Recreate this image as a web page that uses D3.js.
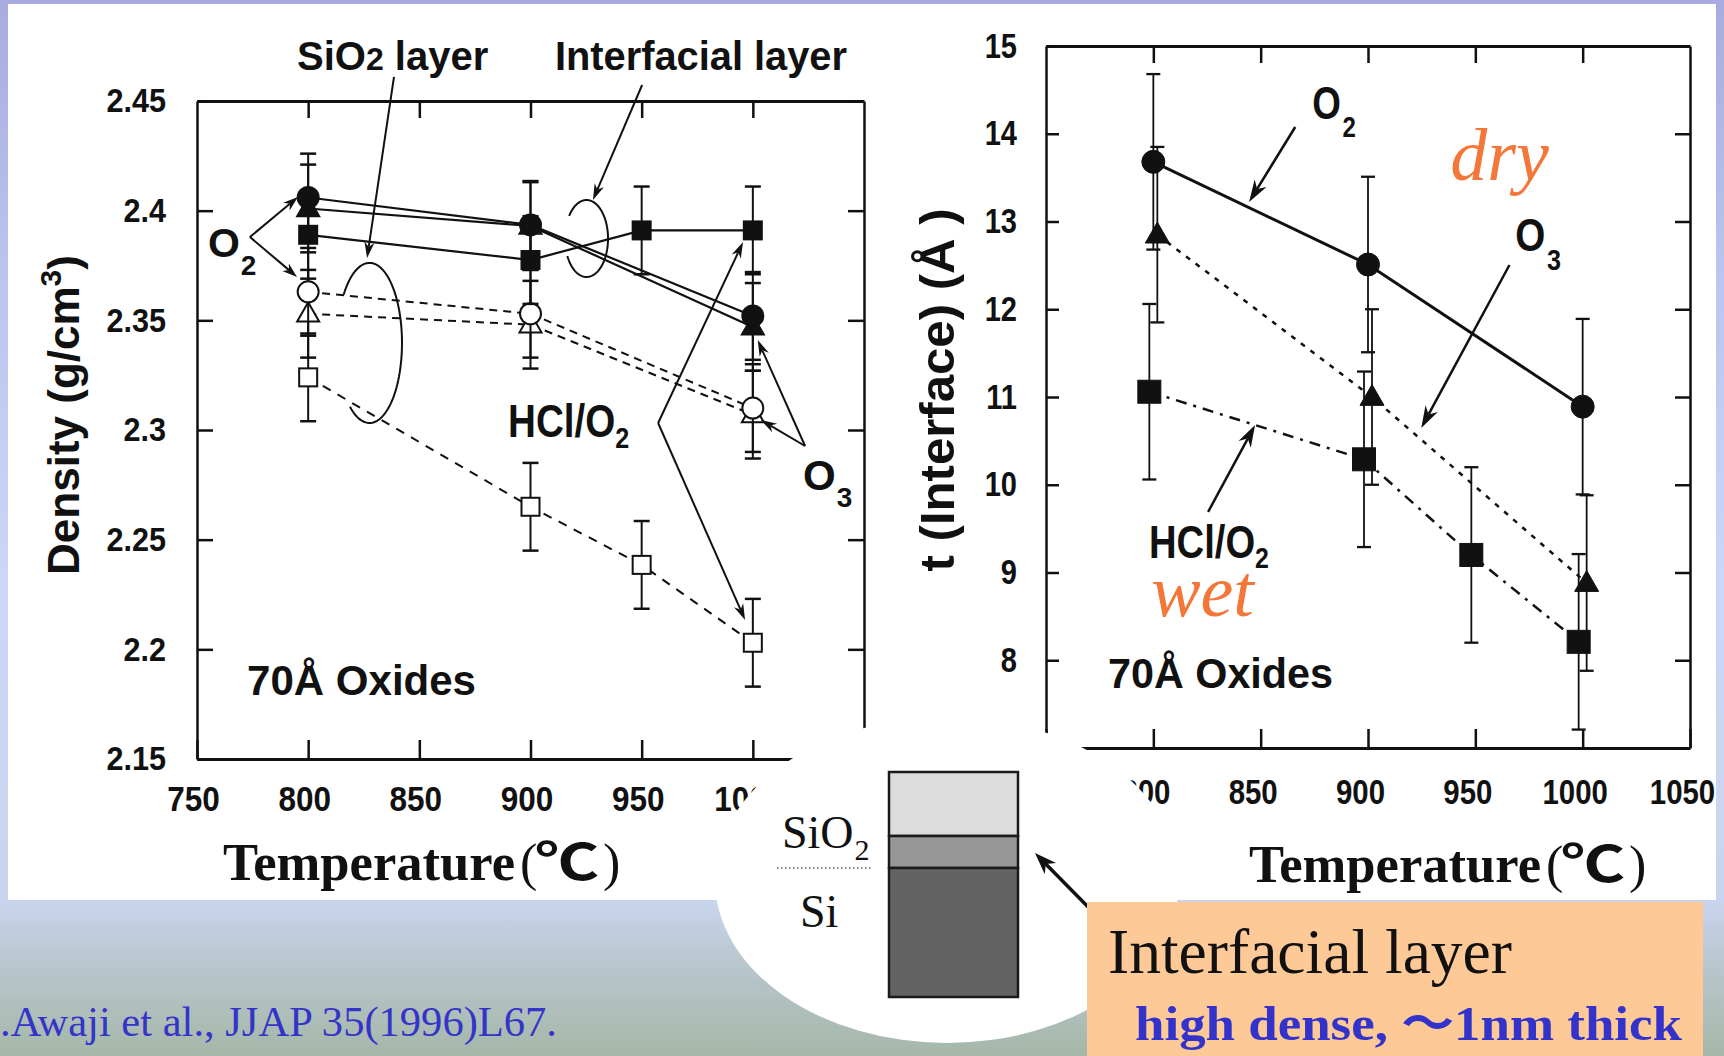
<!DOCTYPE html>
<html>
<head>
<meta charset="utf-8">
<script src="https://cdnjs.cloudflare.com/ajax/libs/d3/7.8.5/d3.min.js"></script>
<style>
  html, body { margin: 0; padding: 0; background: #fff; }
  svg { display: block; }
</style>
</head>
<body>
<svg id="slide" width="1724" height="1056"></svg>
<script>
// ---------------- data: oxide density (left panel) ----------------
const tempsA = [800, 900, 1000];
const tempsB = [800, 900, 950, 1000];

// interfacial layer (filled symbols, solid lines)
const densIfO2  = [2.406, 2.3935, 2.352];
const densIfO3  = [2.401, 2.393, 2.347];
const densIfHCl = [2.389, 2.3775, 2.391, 2.391];
// SiO2 layer (open symbols, dashed lines)
const densOxO2  = [2.363, 2.353, 2.310];
const densOxO3  = [2.353, 2.348, 2.307];
const densOxHCl = [2.324, 2.265, 2.2385, 2.203];
const densErrA  = [0.02, 0.02, 0.02];
const densErrB  = [0.02, 0.02, 0.02, 0.02];

// ---------------- data: interfacial thickness (right panel) ----------------
const thickO2   = [13.68, 12.51, 10.89];
const thickO3   = [12.85, 11.0, 8.88];
const thickHCl  = [11.06, 10.29, 9.2, 8.21];
const thickErrA = [1, 1, 1];
const thickErrB = [1, 1, 1, 1];

// ---------------- tick values / labels ----------------
const tempTicks       = [750, 800, 850, 900, 950, 1000, 1050];
const tempLabelsA     = ["750", "800", "850", "900", "950", "1000", ""];
const tempLabelsB     = ["", "800", "850", "900", "950", "1000", "1050"];
const tempInnerTicks  = [800, 850, 900, 950, 1000];
const densTicks       = [2.15, 2.2, 2.25, 2.3, 2.35, 2.4, 2.45];
const densTickLabels  = ["2.15", "2.2", "2.25", "2.3", "2.35", "2.4", "2.45"];
const thickTicks      = [7, 8, 9, 10, 11, 12, 13, 14, 15];
const thickTickLabels = ["", "8", "9", "10", "11", "12", "13", "14", "15"];

// ---------------- styling ----------------
const INK = "#111";
const SANS = "'Liberation Sans', Arial, Helvetica, sans-serif";
const SERIF = "'Liberation Serif', 'Times New Roman', 'Noto Sans CJK JP', serif";
const ORANGE = "#f4773a";
const BLUE = "#3434c9";

const svg = d3.select("#slide");

// slide background
const defs = svg.append("defs");
const bg = defs.append("linearGradient").attr("id", "bg").attr("x1", 0).attr("y1", 0).attr("x2", 0).attr("y2", 1);
[[0, "#a8abdf"], [0.25, "#bcc3ed"], [0.55, "#cdd6f6"], [0.85, "#c9d5ee"], [0.93, "#b5c3c6"], [1, "#a5b7a9"]]
  .forEach(([o, c]) => bg.append("stop").attr("offset", o).attr("stop-color", c));
svg.append("rect").attr("width", 1724).attr("height", 1056).attr("fill", "url(#bg)");
svg.append("rect").attr("x", 8).attr("y", 4).attr("width", 1708).attr("height", 896).attr("fill", "#fff");

// ---------------- helpers ----------------
function txt(g, s, x, y, o) {
  const t = g.append("text").attr("x", x).attr("y", y).text(s)
    .attr("font-family", o.family || SANS).attr("font-size", o.size)
    .attr("font-weight", o.weight || "bold").attr("fill", o.fill || INK);
  if (o.style) t.attr("font-style", o.style);
  if (o.anchor) t.attr("text-anchor", o.anchor);
  if (o.width) t.attr("textLength", o.width).attr("lengthAdjust", "spacingAndGlyphs");
  return t;
}

// formula label with a lowered index, optionally condensed horizontally
function chem(g, main, sub, x, y, o) {
  const t = g.append("text")
    .attr("transform", `translate(${x},${y}) scale(${o.sx || 1},1)`)
    .attr("font-family", o.family || SANS).attr("font-size", o.size)
    .attr("font-weight", o.weight || "bold").attr("fill", INK);
  t.append("tspan").text(main);
  t.append("tspan").attr("font-size", o.subSize).attr("dy", o.subDy).attr("dx", o.subDx || 0).text(sub);
  return t;
}

function arrow(g, x1, y1, x2, y2, o) {
  const len = o.head, hw = o.hw;
  const dx = x2 - x1, dy = y2 - y1, d = Math.hypot(dx, dy), ux = dx / d, uy = dy / d;
  const bx = x2 - ux * len, by = y2 - uy * len;
  const nx = x2 - ux * len * 0.7, ny = y2 - uy * len * 0.7;
  g.append("line").attr("x1", x1).attr("y1", y1).attr("x2", nx).attr("y2", ny)
    .attr("stroke", INK).attr("stroke-width", o.sw);
  g.append("path")
    .attr("d", `M${x2},${y2}L${bx - uy * hw},${by + ux * hw}L${nx},${ny}L${bx + uy * hw},${by - ux * hw}Z`)
    .attr("fill", INK);
}

function loop(g, cx, cy, rx, ry, a0, a1) {
  const pts = d3.range(a0, a1 + 0.1, 3).map(a => {
    const r = a * Math.PI / 180;
    return [cx + rx * Math.cos(r), cy + ry * Math.sin(r)];
  });
  g.append("path").attr("d", d3.line()(pts)).attr("fill", "none")
    .attr("stroke", INK).attr("stroke-width", 2);
}

function marker(g, kind, filled, cx, cy, s, sw) {
  let el;
  if (kind === "circle") {
    el = g.append("circle").attr("cx", cx).attr("cy", cy).attr("r", s / 2);
  } else if (kind === "square") {
    el = g.append("rect").attr("x", cx - s / 2).attr("y", cy - s / 2).attr("width", s).attr("height", s);
  } else {
    const h = s * 0.87;
    el = g.append("path").attr("d", `M${cx},${cy - h * 0.6}L${cx + s / 2},${cy + h * 0.4}L${cx - s / 2},${cy + h * 0.4}Z`);
  }
  el.attr("fill", filled ? INK : "#fff").attr("stroke", INK).attr("stroke-width", sw);
}

function styleAxis(ag, o) {
  ag.attr("font-family", SANS).attr("font-size", o.size).attr("font-weight", "bold");
  ag.select(".domain").attr("stroke", INK).attr("stroke-width", o.domain);
  ag.selectAll(".tick line").attr("stroke", INK).attr("stroke-width", o.tick);
  ag.selectAll(".tick text").attr("fill", INK).each(function () {
    const t = d3.select(this);
    const x0 = +t.attr("x") || 0;
    t.attr("x", (x0 + (o.dx || 0)) / o.sx).attr("transform", `scale(${o.sx},1)`);
  });
}

function series(g, x, y, s, st) {
  const dx = st.dx[s.mark] || 0;
  const pts = s.t.map((t, i) => ({ t, v: s.v[i], e: s.e[i] }));
  g.append("path").datum(pts)
    .attr("d", d3.line().x(d => x(d.t) + dx).y(d => y(d.v)))
    .attr("fill", "none").attr("stroke", INK).attr("stroke-width", s.width)
    .attr("stroke-dasharray", s.dash);
  pts.forEach(d => {
    const px = x(d.t) + dx, yTop = y(d.v + d.e), yBot = y(d.v - d.e);
    g.append("line").attr("x1", px).attr("x2", px).attr("y1", yTop).attr("y2", yBot)
      .attr("stroke", INK).attr("stroke-width", st.errW);
    [yTop, yBot].forEach(yy => g.append("line")
      .attr("x1", px - st.cap / 2).attr("x2", px + st.cap / 2).attr("y1", yy).attr("y2", yy)
      .attr("stroke", INK).attr("stroke-width", st.errW + 0.5));
  });
  pts.forEach(d => marker(g, s.mark, s.filled, x(d.t) + dx, y(d.v), st.size[s.mark], st.markW));
}

function tempTitle(g, x, y) {
  txt(g, "Temperature", x, y, { family: SERIF, size: 52, width: 292 });
  txt(g, "(", x + 297, y, { family: SERIF, size: 52, weight: "normal" });
  txt(g, "℃", x + 312, y, { family: "'Noto Sans CJK JP', 'DejaVu Sans', sans-serif", size: 50, weight: "bold", width: 64 });
  txt(g, ")", x + 380, y, { family: SERIF, size: 52, weight: "normal" });
}

// ================= left panel: density =================
const xA = d3.scaleLinear().domain([750, 1050]).range([197, 864]);
const yA = d3.scaleLinear().domain([2.15, 2.45]).range([759, 101]);
const gA = svg.append("g");

styleAxis(gA.append("g").attr("transform", `translate(0,${yA(2.15)})`)
  .call(d3.axisBottom(xA).tickValues(tempTicks).tickFormat((d, i) => tempLabelsA[i]).tickSize(-19).tickSizeOuter(0).tickPadding(27)),
  { size: 35, sx: 0.9, dx: -4, domain: 3, tick: 2.5 });
styleAxis(gA.append("g").attr("transform", `translate(0,${yA(2.45)})`)
  .call(d3.axisTop(xA).tickValues(tempInnerTicks).tickFormat(() => "").tickSize(-17).tickSizeOuter(0)),
  { size: 35, sx: 1, domain: 3, tick: 2.5 });
styleAxis(gA.append("g").attr("transform", `translate(${xA(750)},0)`)
  .call(d3.axisLeft(yA).tickValues(densTicks).tickFormat((d, i) => densTickLabels[i]).tickSize(-16).tickSizeOuter(0).tickPadding(31)),
  { size: 34, sx: 0.9, domain: 2.5, tick: 2.5 });
styleAxis(gA.append("g").attr("transform", `translate(${xA(1050)},0)`)
  .call(d3.axisRight(yA).tickValues(densTicks).tickFormat(() => "").tickSize(-16).tickSizeOuter(0)),
  { size: 34, sx: 1, domain: 2.5, tick: 2.5 });

const densStyle = {
  dx: {}, errW: 2, cap: 16, markW: 2,
  size: { circle: 21, square: 18, triangle: 22 }
};
const densSeries = [
  { t: tempsB, v: densOxHCl, e: densErrB, mark: "square",   filled: false, dash: "9,8", width: 2 },
  { t: tempsA, v: densOxO3,  e: densErrA, mark: "triangle", filled: false, dash: "8,6", width: 2 },
  { t: tempsA, v: densOxO2,  e: densErrA, mark: "circle",   filled: false, dash: "8,6", width: 2 },
  { t: tempsB, v: densIfHCl, e: densErrB, mark: "square",   filled: true,  dash: null,  width: 2.2 },
  { t: tempsA, v: densIfO3,  e: densErrA, mark: "triangle", filled: true,  dash: null,  width: 2.2 },
  { t: tempsA, v: densIfO2,  e: densErrA, mark: "circle",   filled: true,  dash: null,  width: 2.2 }
];
densSeries.forEach(s => series(gA, xA, yA, s, densStyle));

// annotations, placed in data units
const P = (x, y, t, v) => [x(t), y(v)];
{
  const [sx, sy] = P(xA, yA, 795, 2.4641);
  const t = txt(gA, "SiO", sx, sy, { size: 40 });
  t.append("tspan").attr("font-size", 32).text("2");
  t.append("tspan").text(" layer");
  txt(gA, "Interfacial layer", xA(911), yA(2.4641), { size: 40, width: 292 });

  arrow(gA, ...P(xA, yA, 838.6, 2.461), ...P(xA, yA, 826.5, 2.3784), { head: 16, hw: 5, sw: 2 });
  loop(gA, xA(827.6), yA(2.3397), xA(827.6 + 14.6) - xA(827.6), yA(2.3397 - 0.0365) - yA(2.3397), 217, 489);
  arrow(gA, ...P(xA, yA, 950.2, 2.4573), ...P(xA, yA, 928.1, 2.4049), { head: 16, hw: 5, sw: 2 });
  loop(gA, xA(925.2), yA(2.3873), xA(925.2 + 9.67) - xA(925.2), yA(2.3873 - 0.01755) - yA(2.3873), 216, 513);

  chem(gA, "O", "2", xA(754.9), yA(2.3789), { size: 41, subSize: 28, subDy: 18, subDx: 1 });
  arrow(gA, ...P(xA, yA, 773.8, 2.388), ...P(xA, yA, 795.4, 2.4062), { head: 15, hw: 5, sw: 2 });
  arrow(gA, ...P(xA, yA, 773.8, 2.388), ...P(xA, yA, 795.0, 2.3698), { head: 15, hw: 5, sw: 2 });

  chem(gA, "HCl/O", "2", xA(889.9), yA(2.2968), { size: 46, subSize: 30, subDy: 11, sx: 0.84 });
  arrow(gA, ...P(xA, yA, 957.4, 2.3032), ...P(xA, yA, 995.6, 2.3857), { head: 16, hw: 5, sw: 2 });
  arrow(gA, ...P(xA, yA, 957.4, 2.3032), ...P(xA, yA, 996.5, 2.2134), { head: 16, hw: 5, sw: 2 });

  chem(gA, "O", "3", xA(1022.6), yA(2.2726), { size: 42, subSize: 28, subDy: 17, subDx: 1 });
  arrow(gA, ...P(xA, yA, 1023.5, 2.2927), ...P(xA, yA, 1002.2, 2.341), { head: 16, hw: 5, sw: 2 });
  arrow(gA, ...P(xA, yA, 1023.5, 2.2927), ...P(xA, yA, 1003.6, 2.3046), { head: 16, hw: 5, sw: 2 });

  txt(gA, "70Å  Oxides", xA(772.5), yA(2.1792), { size: 42, width: 229 });
}

// y title
{
  const t = gA.append("text").attr("transform", "translate(79,415) rotate(-90)")
    .attr("text-anchor", "middle").attr("font-family", SANS).attr("font-size", 44)
    .attr("font-weight", "bold").attr("fill", INK);
  t.append("tspan").text("Density (g/cm");
  t.append("tspan").attr("font-size", 30).attr("dy", -18).text("3");
  t.append("tspan").attr("dy", 18).text(")");
}
tempTitle(gA, 223, 880);

// ================= right panel: interfacial thickness =================
const xB = d3.scaleLinear().domain([750, 1050]).range([1046, 1690]);
const yB = d3.scaleLinear().domain([7, 15]).range([748, 46]);
const gB = svg.append("g");

styleAxis(gB.append("g").attr("transform", `translate(0,${yB(7)})`)
  .call(d3.axisBottom(xB).tickValues(tempTicks).tickFormat((d, i) => tempLabelsB[i]).tickSize(-19).tickSizeOuter(0).tickPadding(31)),
  { size: 35, sx: 0.84, dx: -8, domain: 3, tick: 2.5 });
styleAxis(gB.append("g").attr("transform", `translate(0,${yB(15)})`)
  .call(d3.axisTop(xB).tickValues(tempInnerTicks).tickFormat(() => "").tickSize(-17).tickSizeOuter(0)),
  { size: 35, sx: 1, domain: 3, tick: 2.5 });
styleAxis(gB.append("g").attr("transform", `translate(${xB(750)},0)`)
  .call(d3.axisLeft(yB).tickValues(thickTicks).tickFormat((d, i) => thickTickLabels[i]).tickSize(-13).tickSizeOuter(0).tickPadding(29)),
  { size: 35, sx: 0.83, domain: 2.5, tick: 2.5 });
styleAxis(gB.append("g").attr("transform", `translate(${xB(1050)},0)`)
  .call(d3.axisRight(yB).tickValues(thickTicks).tickFormat(() => "").tickSize(-15).tickSizeOuter(0)),
  { size: 35, sx: 1, domain: 2.5, tick: 2.5 });

const thickStyle = {
  dx: { circle: 0, triangle: 4, square: -4 }, errW: 1.8, cap: 14, markW: 1,
  size: { circle: 23, square: 23, triangle: 24 }
};
const thickSeries = [
  { t: tempsB, v: thickHCl, e: thickErrB, mark: "square",   filled: true, dash: "11,7,3,7", width: 2.5 },
  { t: tempsA, v: thickO3,  e: thickErrA, mark: "triangle", filled: true, dash: "5,7",      width: 2.5 },
  { t: tempsA, v: thickO2,  e: thickErrA, mark: "circle",   filled: true, dash: null,       width: 3 }
];
thickSeries.forEach(s => series(gB, xB, yB, s, thickStyle));

{
  chem(gB, "O", "2", xB(874.0), yB(14.168), { size: 46, subSize: 30, subDy: 18, subDx: 2, sx: 0.8 });
  arrow(gB, ...P(xB, yB, 866.1, 14.077), ...P(xB, yB, 844.6, 13.222), { head: 22, hw: 7, sw: 2.5 });

  txt(gB, "dry", xB(938.3), yB(13.473), { family: SERIF, size: 74, weight: "normal", style: "italic", fill: ORANGE });

  chem(gB, "O", "3", xB(968.6), yB(12.664), { size: 46, subSize: 30, subDy: 19, subDx: 2, sx: 0.84 });
  arrow(gB, ...P(xB, yB, 965.9, 12.504), ...P(xB, yB, 924.8, 10.647), { head: 22, hw: 7, sw: 2.5 });

  chem(gB, "HCl/O", "2", xB(798.0), yB(9.165), { size: 46, subSize: 30, subDy: 10, sx: 0.83 });
  arrow(gB, ...P(xB, yB, 825.5, 9.69), ...P(xB, yB, 847.4, 10.68), { head: 22, hw: 7, sw: 2.5 });

  txt(gB, "wet", xB(799.0), yB(8.504), { family: SERIF, size: 74, weight: "normal", style: "italic", fill: ORANGE });

  txt(gB, "70Å  Oxides", xB(778.9), yB(7.684), { size: 42, width: 225 });
}

gB.append("text").attr("transform", "translate(954,390) rotate(-90)")
  .attr("text-anchor", "middle").attr("font-family", SANS).attr("font-size", 48)
  .attr("font-weight", "bold").attr("fill", INK)
  .attr("textLength", 363).attr("lengthAdjust", "spacingAndGlyphs")
  .text("t (Interface) (Å )");
tempTitle(gB, 1249, 882);

// ================= layer schematic =================
svg.append("ellipse").attr("cx", 947).attr("cy", 880).attr("rx", 232).attr("ry", 163).attr("fill", "#fff");

const stack = [
  { name: "SiO2", h: 64, fill: "#dcdcdc" },
  { name: "interfacial", h: 32, fill: "#969696" },
  { name: "Si", h: 129, fill: "#636363" }
];
{
  const g = svg.append("g");
  let y = 772;
  stack.forEach(l => {
    g.append("rect").attr("x", 889).attr("y", y).attr("width", 129).attr("height", l.h)
      .attr("fill", l.fill).attr("stroke", "#1a1a1a").attr("stroke-width", 2.5);
    y += l.h;
  });
  chem(g, "SiO", "2", 782, 848, { family: SERIF, weight: "normal", size: 46, subSize: 30, subDy: 12, subDx: 1 });
  g.append("line").attr("x1", 777).attr("x2", 871).attr("y1", 868).attr("y2", 868)
    .attr("stroke", INK).attr("stroke-width", 1.2).attr("stroke-dasharray", "1.5,2.5");
  txt(g, "Si", 800, 927, { family: SERIF, size: 46, weight: "normal" });
  arrow(g, 1097, 916, 1035, 853, { head: 22, hw: 8, sw: 3.5 });
}

// ================= callout box =================
svg.append("rect").attr("x", 1087).attr("y", 902).attr("width", 616).attr("height", 154).attr("fill", "#fdc997");
txt(svg, "Interfacial layer", 1108, 973, { family: SERIF, size: 63, weight: "normal", width: 404 });
txt(svg, "high dense, ～1nm thick", 1135, 1040, { family: SERIF, size: 48, weight: "bold", fill: "#3333cc", width: 547 });

// reference
txt(svg, ".Awaji et al., JJAP 35(1996)L67.", 0, 1036, { family: SERIF, size: 42, weight: "normal", fill: BLUE, width: 557 });
</script>
</body>
</html>
